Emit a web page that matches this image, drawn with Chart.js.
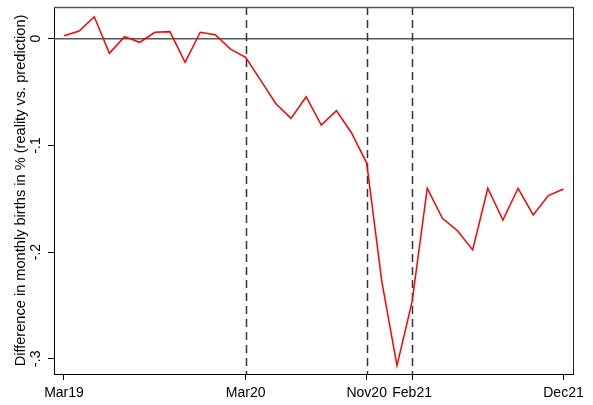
<!DOCTYPE html>
<html>
<head>
<meta charset="utf-8">
<script src="https://cdn.jsdelivr.net/npm/chart.js@4.4.1/dist/chart.umd.min.js"></script>
<style>
  html, body { margin: 0; padding: 0; background: #fff; }
  #wrap { width: 593px; height: 405px; position: relative; }
</style>
</head>
<body>
<div id="wrap"><canvas id="c" width="593" height="405"></canvas></div>
<script>
// Monthly observations, March 2019 to December 2021
const months = [
  'Mar19','Apr19','May19','Jun19','Jul19','Aug19','Sep19','Oct19','Nov19','Dec19',
  'Jan20','Feb20','Mar20','Apr20','May20','Jun20','Jul20','Aug20','Sep20','Oct20',
  'Nov20','Dec20','Jan21','Feb21','Mar21','Apr21','May21','Jun21','Jul21','Aug21',
  'Sep21','Oct21','Nov21','Dec21'
];
// Difference in monthly births (reality vs. prediction)
const diffBirths = [
  0.0028, 0.0072, 0.0206, -0.0137, 0.0019, -0.0034, 0.0060, 0.0066, -0.0221, 0.0060,
  0.0037, -0.0097, -0.0174, -0.0390, -0.0610, -0.0747, -0.0544, -0.0810, -0.0675, -0.0884,
  -0.1166, -0.2277, -0.3065, -0.2465, -0.1402, -0.1683, -0.1800, -0.1980, -0.1402, -0.1700,
  -0.1402, -0.1652, -0.1471, -0.1409
];
const xTickMonths = ['Mar19', 'Mar20', 'Nov20', 'Feb21', 'Dec21'];
const markerMonths = ['Mar20', 'Nov20', 'Feb21'];
const yTickValues = [0, -0.1, -0.2, -0.3];
const yTickLabels = ['0', '-.1', '-.2', '-.3'];
const yTitle = 'Difference in monthly births in % (reality vs. prediction)';

const FONT = '"Liberation Sans", Arial, Helvetica, sans-serif';
const points = diffBirths.map((v, i) => ({ x: i, y: v }));

// Zero reference line, event markers, frame and rotated y labels
const decor = {
  id: 'decor',
  beforeDatasetsDraw(chart) {
    const { ctx, chartArea: a, scales: { x, y } } = chart;
    ctx.save();
    // horizontal reference at zero
    const y0 = y.getPixelForValue(0);
    ctx.strokeStyle = '#555';
    ctx.lineWidth = 1.5;
    ctx.beginPath(); ctx.moveTo(a.left, y0); ctx.lineTo(a.right, y0); ctx.stroke();
    // dashed vertical markers
    ctx.strokeStyle = '#333';
    ctx.lineWidth = 1.5;
    ctx.setLineDash([8, 5]);
    markerMonths.forEach(m => {
      const px = Math.round(x.getPixelForValue(months.indexOf(m))) + 0.5;
      ctx.beginPath(); ctx.moveTo(px, a.top); ctx.lineTo(px, a.bottom); ctx.stroke();
    });
    ctx.setLineDash([]);
    // top and right frame
    ctx.strokeStyle = '#555';
    ctx.lineWidth = 1.5;
    ctx.beginPath(); ctx.moveTo(a.left, a.top + 0.5); ctx.lineTo(a.right, a.top + 0.5); ctx.stroke();
    ctx.strokeStyle = '#222';
    ctx.lineWidth = 1;
    ctx.beginPath(); ctx.moveTo(a.right + 0.5, a.top); ctx.lineTo(a.right + 0.5, a.bottom); ctx.stroke();
    ctx.restore();
  },
  afterDraw(chart) {
    const { ctx, chartArea: a, scales: { y } } = chart;
    ctx.save();
    ctx.fillStyle = '#000';
    ctx.textAlign = 'center';
    ctx.textBaseline = 'alphabetic';
    ctx.font = '14px ' + FONT;
    yTickValues.forEach((v, i) => {
      const py = y.getPixelForValue(v);
      ctx.save();
      ctx.translate(39.5, py);
      ctx.rotate(-Math.PI / 2);
      ctx.fillText(yTickLabels[i], 0, 0);
      ctx.restore();
    });
    ctx.font = '14.6px ' + FONT;
    ctx.save();
    ctx.translate(25, (a.top + a.bottom) / 2);
    ctx.rotate(-Math.PI / 2);
    ctx.fillText(yTitle, 0, 0);
    ctx.restore();
    ctx.restore();
  }
};

new Chart(document.getElementById('c'), {
  type: 'line',
  data: {
    datasets: [{
      data: points,
      borderColor: '#ff0000',
      borderWidth: 1.5,
      pointRadius: 0,
      tension: 0,
      fill: false
    }]
  },
  options: {
    responsive: false,
    animation: false,
    devicePixelRatio: 1,
    layout: { padding: { top: 7, right: 20, left: 0, bottom: 0 } },
    plugins: { legend: { display: false }, tooltip: { enabled: false } },
    scales: {
      x: {
        type: 'linear',
        min: -0.66,
        max: 33.63,
        afterBuildTicks(scale) {
          scale.ticks = xTickMonths.map(m => ({ value: months.indexOf(m) }));
        },
        afterFit(scale) { scale.height = 31; },
        ticks: {
          callback: (v) => months[v],
          color: '#000',
          font: { family: FONT, size: 14 },
          padding: 4.5,
          maxRotation: 0,
          autoSkip: false
        },
        grid: { drawOnChartArea: false, drawTicks: true, tickLength: 6, color: '#000', lineWidth: 1 },
        border: { display: true, color: '#000', width: 1 }
      },
      y: {
        type: 'linear',
        min: -0.3143,
        max: 0.0297,
        afterBuildTicks(scale) {
          scale.ticks = yTickValues.map(v => ({ value: v }));
        },
        afterFit(scale) { scale.width = 54; },
        ticks: { display: false },
        grid: { drawOnChartArea: false, drawTicks: true, tickLength: 6, color: '#000', lineWidth: 1 },
        border: { display: true, color: '#000', width: 1 }
      }
    }
  },
  plugins: [decor]
});
</script>
</body>
</html>
